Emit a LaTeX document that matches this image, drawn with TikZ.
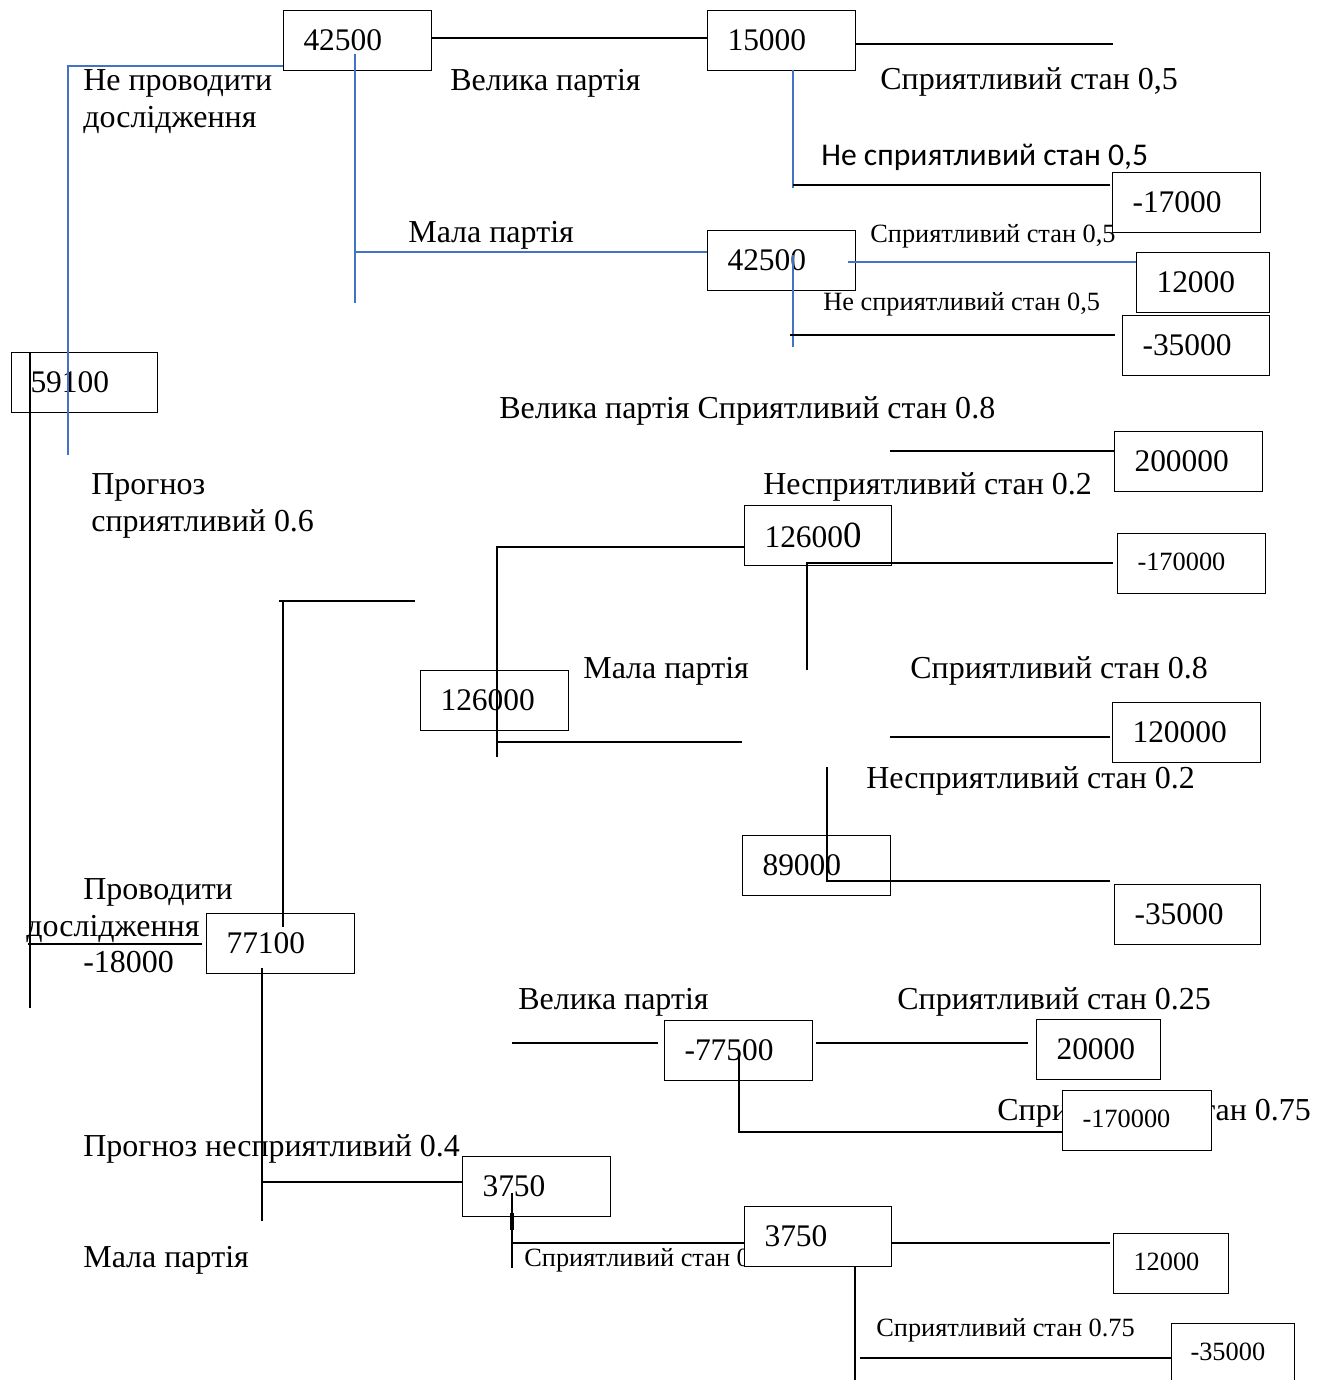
\documentclass[tikz,border=0pt]{standalone}
\usepackage{fontspec}
\setmainfont{Liberation Serif}
\newfontfamily\sansf{Carlito}
\definecolor{lblue}{RGB}{68,114,196}
\begin{document}
\begin{tikzpicture}[x=0.02cm,y=-0.02cm,
  big/.style={font=\fontsize{18.2}{21}\selectfont},
  num/.style={font=\fontsize{17.9}{21}\selectfont},
  sml/.style={font=\fontsize{15}{18}\selectfont},
  lbl/.style={inner sep=0pt, anchor=base west},
  box/.style={draw, line width=0.6pt, fill=white, anchor=north west, minimum height=1.2cm,
              inner xsep=0.4cm, inner ysep=0pt, align=left},
  ln/.style={line width=1.1pt},
  bl/.style={line width=1.1pt, draw=lblue}]
\useasboundingbox (0,0) rectangle (1325,1380);

% ---------- labels ----------
\node[lbl,big] (t1) at (83,90) {Не проводити};
\node[lbl,big] (t2) at (83,127) {дослідження};
\node[lbl,big] (t3) at (450,90) {Велика партія};
\node[lbl,big] (t4) at (880,89) {Сприятливий стан 0,5};
\node[lbl,font=\sansf\fontsize{18}{21}\selectfont] (t5) at (821,165) {Не сприятливий стан 0,5};
\node[lbl,big] (t6) at (408,242) {Мала партія};
\node[lbl,sml] (t7) at (870,242) {Сприятливий стан 0,5};
\node[lbl,sml] (t8) at (823,310) {Не сприятливий стан 0,5};
\node[lbl,big] (t9) at (499,418) {Велика партія Сприятливий стан 0.8};
\node[lbl,big] (t10) at (91,494) {Прогноз};
\node[lbl,big] (t11) at (91,531) {сприятливий 0.6};
\node[lbl,big] (t12) at (763,494) {Несприятливий стан 0.2};
\node[lbl,big] (t13) at (583,678) {Мала партія};
\node[lbl,big] (t14) at (910,678) {Сприятливий стан 0.8};
\node[lbl,big] (t15) at (866,788) {Несприятливий стан 0.2};
\node[lbl,big] (t16) at (83,899) {Проводити};
\node[lbl,big] (t17) at (26,936) {дослідження};
\node[lbl,big] (t18) at (83,972) {-18000};
\node[lbl,big] (t19) at (518,1009) {Велика партія};
\node[lbl,big] (t20) at (897,1009) {Сприятливий стан 0.25};
\node[lbl,big] (t21) at (997,1120) {Сприятливий стан 0.75};
\node[lbl,big] (t22) at (83,1156) {Прогноз несприятливий 0.4};
\node[lbl,big] (t23) at (83,1267) {Мала партія};
\node[lbl,sml] (t24) at (524,1266) {Сприятливий стан 0.25};
\node[lbl,sml] (t25) at (876,1336) {Сприятливий стан 0.75};

% ---------- boxes ----------
\node[box,num,text width=2.16cm] (b1) at (283,10) {42500};
\node[box,num,text width=2.16cm] (b2) at (707,10) {15000};
\node[box,num,text width=2.16cm] (b3) at (1112,172) {-17000};
\node[box,num,text width=2.16cm] (b4) at (707,230) {42500};
\node[box,num,text width=1.86cm] (b5) at (1136,252) {12000};
\node[box,num,text width=2.14cm] (b6) at (1122,315) {-35000};
\node[box,num,text width=2.16cm,inner xsep=0.38cm] (b7) at (11,352) {59100};
\node[box,num,text width=2.16cm] (b8) at (1114,431) {200000};
\node[box,num,text width=2.14cm] (b9) at (744,505) {12600{\fontsize{21}{21}\selectfont 0}};
\node[box,sml,text width=2.16cm] (b10) at (1117,533) {\raisebox{0.08cm}{-170000}};
\node[box,num,text width=2.16cm] (b11) at (420,670) {126000};
\node[box,num,text width=2.16cm] (b12) at (1112,702) {120000};
\node[box,num,text width=2.16cm] (b13) at (742,835) {89000};
\node[box,num,text width=2.12cm] (b14) at (1114,884) {-35000};
\node[box,num,text width=2.16cm] (b15) at (206,913) {77100};
\node[box,num,text width=2.16cm] (b16) at (664,1020) {-77500};
\node[box,num,text width=1.68cm] (b17) at (1036,1019) {20000};
\node[box,sml,text width=2.18cm] (b18) at (1062,1090) {\raisebox{0.06cm}{-170000}};
\node[box,num,text width=2.16cm] (b19) at (462,1156) {3750};
\node[box,num,text width=2.14cm] (b20) at (744,1206) {3750};
\node[box,sml,text width=1.5cm] (b21) at (1113,1233) {\raisebox{0.08cm}{12000}};
\node[box,sml,text width=1.7cm,inner xsep=0.38cm] (b22) at (1171,1323) {\raisebox{0.08cm}{-35000}};

% ---------- blue connectors ----------
\draw[bl] (68,455) -- (68,66) -- (283,66);
\draw[bl] (355,54) -- (355,303);
\draw[bl] (355,252) -- (707,252);
\draw[bl] (793,70) -- (793,188);
\draw[bl] (848,262) -- (1136,262);
\draw[bl] (793,255) -- (793,347);

% ---------- black connectors ----------
\draw[ln] (431,38) -- (707,38);
\draw[ln] (856,44) -- (1113,44);
\draw[ln] (793,185) -- (1110,185);
\draw[ln] (790,335) -- (1115,335);
\draw[ln] (890,451) -- (1114,451);
\draw[ln] (744,547) -- (497,547) -- (497,757);
\draw[ln] (496,742) -- (742,742);
\draw[ln] (807,670) -- (807,563) -- (1113,563);
\draw[ln] (890,737) -- (1110,737);
\draw[ln] (827,767) -- (827,881) -- (1110,881);
\draw[ln] (415,601) -- (279,601);
\draw[ln] (283,601) -- (283,927);
\draw[ln] (30,352) -- (30,1008);
\draw[ln] (28,944) -- (202,944);
\draw[ln] (262,968) -- (262,1221);
\draw[ln] (262,1182) -- (462,1182);
\draw[ln] (512,1193) -- (512,1268);
\draw[line width=2pt] (512,1213) -- (512,1230);
\draw[ln] (512,1243) -- (744,1243);
\draw[ln] (891,1243) -- (1110,1243);
\draw[ln] (855,1266) -- (855,1380);
\draw[ln] (860,1358) -- (1171,1358);
\draw[ln] (512,1043) -- (658,1043);
\draw[ln] (816,1043) -- (1028,1043);
\draw[ln] (739,1050) -- (739,1132) -- (1062,1132);
\end{tikzpicture}
\end{document}
